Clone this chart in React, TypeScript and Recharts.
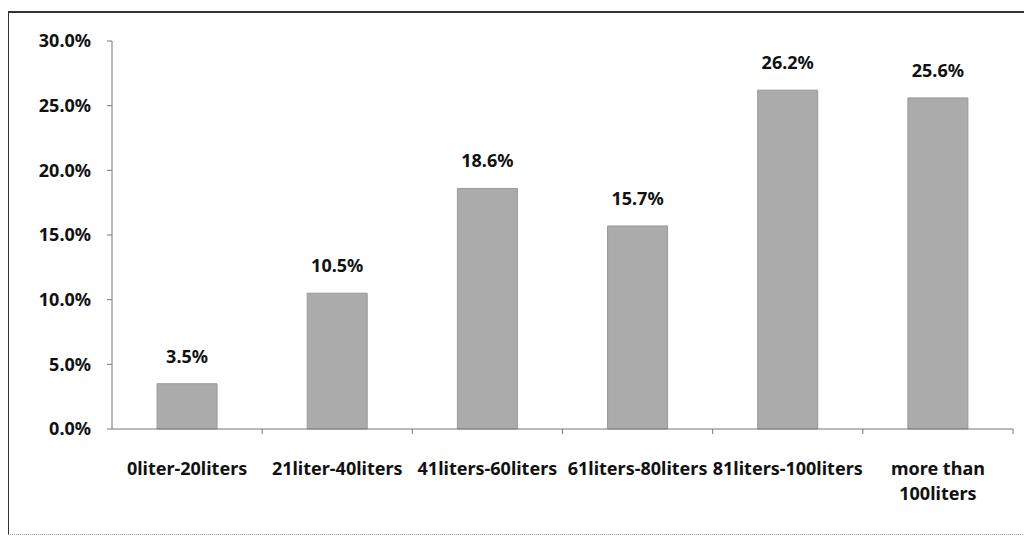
import React from 'react';
import { BarChart, Bar, XAxis, YAxis, LabelList } from 'recharts';

const categories = [
  '0liter-20liters',
  '21liter-40liters',
  '41liters-60liters',
  '61liters-80liters',
  '81liters-100liters',
  'more than 100liters',
];
const shares = [3.5, 10.5, 18.6, 15.7, 26.2, 25.6];
const yTicks = [0, 5, 10, 15, 20, 25, 30];

const data = categories.map((c, i) => ({ category: c, share: shares[i] }));

const FONT = "'Noto Sans', sans-serif";
const pct = (v: any) => Number(v).toFixed(1) + '%';

const XTick = (props: any) => {
  const { x, y, payload } = props;
  const half = payload && payload.offset ? payload.offset : 75;
  const label: string = String(payload.value);
  const sp = label.lastIndexOf(' ');
  const lines = label.length > 18 && sp > 0 ? [label.slice(0, sp), label.slice(sp + 1)] : [label];
  return (
    <g>
      <line x1={x + half} x2={x + half} y1={y} y2={y + 5} stroke="#777" strokeWidth={1} />
      <text
        x={x}
        y={y + 46}
        textAnchor="middle"
        fill="#111"
        fontFamily={FONT}
        fontSize={18}
        fontWeight={700}
      >
        {lines.map((l, i) => (
          <tspan key={i} x={x} dy={i === 0 ? 0 : 25}>
            {l}
          </tspan>
        ))}
      </text>
    </g>
  );
};

export default function App() {
  return (
    <div style={{ position: 'relative', margin: '-8px 0 0 -8px', width: 1032, height: 540, background: '#fff' }}>
      <div
        style={{
          position: 'absolute',
          left: 7,
          top: 11,
          width: 1030,
          height: 521,
          borderTop: '2px solid #333',
          borderLeft: '2px solid #333',
          borderBottom: '1px dotted #999',
        }}
      />
      <div style={{ position: 'absolute', left: 0, top: 0 }}>
        <BarChart
          width={1032}
          height={540}
          data={data}
          margin={{ top: 41, right: 19, bottom: 81, left: 0 }}
          barCategoryGap="30%"
        >
          <XAxis
            dataKey="category"
            interval={0}
            height={30}
            tickSize={0}
            tickMargin={0}
            tickLine={false}
            axisLine={{ stroke: '#777', strokeWidth: 1 }}
            tick={<XTick />}
          />
          <YAxis
            width={112}
            domain={[0, 30]}
            ticks={yTicks}
            tickFormatter={pct}
            tickSize={5}
            tickMargin={16}
            axisLine={{ stroke: '#777', strokeWidth: 1 }}
            tickLine={{ stroke: '#777' }}
            tick={{ fill: '#111', fontFamily: FONT, fontSize: 18, fontWeight: 700 }}
          />
          <Bar dataKey="share" fill="#ababab" stroke="#999" strokeWidth={1} isAnimationActive={false}>
            <LabelList
              dataKey="share"
              position="top"
              offset={21}
              formatter={pct}
              style={{ fill: '#111', fontFamily: FONT, fontSize: 18, fontWeight: 700 }}
            />
          </Bar>
        </BarChart>
      </div>
    </div>
  );
}
